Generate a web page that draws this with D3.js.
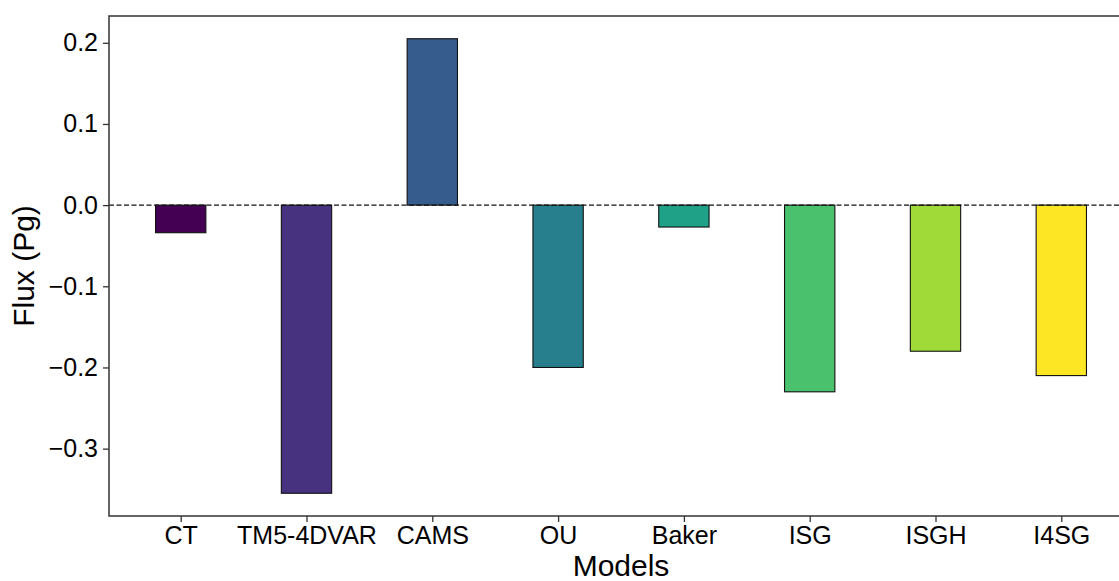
<!DOCTYPE html>
<html>
<head>
<meta charset="utf-8">
<script src="https://cdn.jsdelivr.net/npm/d3@7"></script>
<style>
  html, body { margin: 0; padding: 0; background: #fff; }
  svg { display: block; font-family: "Liberation Sans", Arial, sans-serif; }
</style>
</head>
<body>
<svg id="chart" width="1119" height="581"></svg>
<script>
// Net flux per inversion model
const models = ["CT", "TM5-4DVAR", "CAMS", "OU", "Baker", "ISG", "ISGH", "I4SG"];
const flux = [-0.034, -0.355, 0.205, -0.200, -0.027, -0.230, -0.180, -0.210];
const barColors = ["#440154", "#46327e", "#365c8d", "#277f8e", "#1fa187", "#4ac16d", "#a0da39", "#fde725"];
const yTicks = [-0.3, -0.2, -0.1, 0.0, 0.1, 0.2];

const svg = d3.select("#chart");
const plotLeft = 109, plotRight = 1133, plotTop = 16, plotBottom = 516;

// Categorical axis with 5% padding around the bar extents
const barWidth = 0.4;
const xMin = -barWidth / 2, xMax = models.length - 1 + barWidth / 2;
const xPad = (xMax - xMin) * 0.05;
const x = d3.scaleLinear().domain([xMin - xPad, xMax + xPad]).range([plotLeft, plotRight]);

const yLo = d3.min(flux), yHi = d3.max(flux);
const yPad = (yHi - yLo) * 0.05;
const y = d3.scaleLinear().domain([yLo - yPad, yHi + yPad]).range([plotBottom, plotTop]);

// Bars
svg.append("g").selectAll("rect")
  .data(models)
  .join("rect")
  .attr("x", (d, i) => x(i - barWidth / 2))
  .attr("width", (d, i) => x(i + barWidth / 2) - x(i - barWidth / 2))
  .attr("y", (d, i) => y(Math.max(0, flux[i])))
  .attr("height", (d, i) => Math.abs(y(flux[i]) - y(0)))
  .attr("fill", (d, i) => barColors[i])
  .attr("stroke", "#111")
  .attr("stroke-width", 1.1);

// Zero reference line
svg.append("line")
  .attr("x1", plotLeft).attr("x2", plotRight)
  .attr("y1", y(0)).attr("y2", y(0))
  .attr("stroke", "#111")
  .attr("stroke-width", 1.3)
  .attr("stroke-dasharray", "5,2.5");

// Y axis
const yAxis = d3.axisLeft(y)
  .tickValues(yTicks)
  .tickFormat(d => d3.format(".1f")(d).replace("-", "\u2212"))
  .tickSize(6)
  .tickPadding(5);
const gy = svg.append("g").attr("transform", `translate(${plotLeft},0)`).call(yAxis);
gy.select(".domain").remove();
gy.selectAll(".tick line").attr("stroke", "#333").attr("stroke-width", 1.3);
gy.selectAll(".tick text").attr("font-size", 25).attr("fill", "#000")
  .attr("font-family", "Liberation Sans, Arial, sans-serif");

// X axis
const xAxis = d3.axisBottom(x)
  .tickValues(d3.range(models.length))
  .tickFormat(i => models[i])
  .tickSize(6)
  .tickPadding(4);
const gx = svg.append("g").attr("transform", `translate(0,${plotBottom})`).call(xAxis);
gx.select(".domain").remove();
gx.selectAll(".tick line").attr("stroke", "#333").attr("stroke-width", 1.3);
gx.selectAll(".tick text").attr("font-size", 25).attr("fill", "#000")
  .attr("font-family", "Liberation Sans, Arial, sans-serif");

// Frame
svg.append("rect")
  .attr("x", plotLeft).attr("y", plotTop)
  .attr("width", plotRight - plotLeft).attr("height", plotBottom - plotTop)
  .attr("fill", "none")
  .attr("stroke", "#333")
  .attr("stroke-width", 1.5);

// Axis titles
svg.append("text")
  .attr("x", (plotLeft + plotRight) / 2)
  .attr("y", 576)
  .attr("text-anchor", "middle")
  .attr("font-size", 30)
  .text("Models");

svg.append("text")
  .attr("transform", `translate(34,${(plotTop + plotBottom) / 2}) rotate(-90)`)
  .attr("text-anchor", "middle")
  .attr("font-size", 30)
  .text("Flux (Pg)");
</script>
</body>
</html>
